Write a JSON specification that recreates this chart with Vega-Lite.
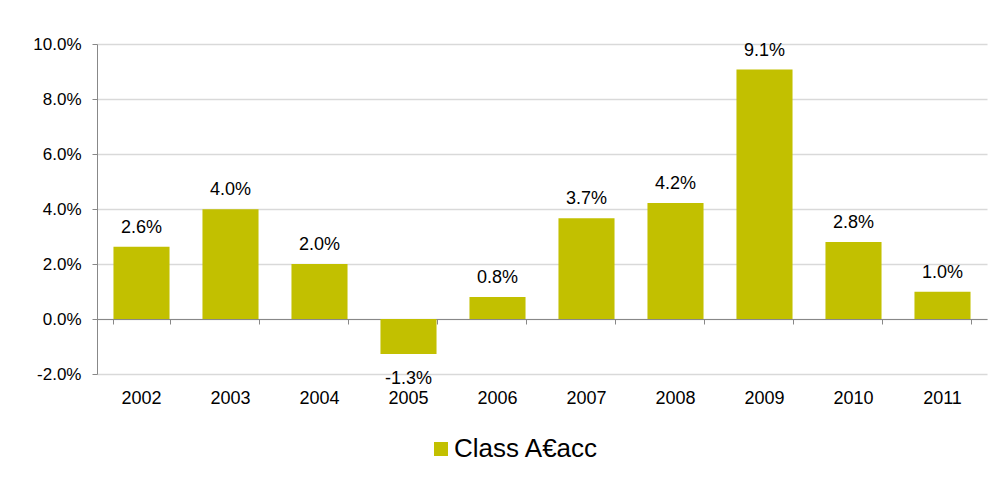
{
  "$schema": "https://vega.github.io/schema/vega-lite/v6.json",
  "width": 890,
  "height": 330,
  "autosize": "none",
  "padding": {"left": 97, "top": 44, "right": 17, "bottom": 103},
  "background": "white",
  "config": {
    "view": {"stroke": null},
    "font": "Liberation Sans",
    "locale": {"number": {"decimal": ".", "thousands": ",", "grouping": [3], "currency": ["$", ""], "minus": "-"}}
  },
  "data": {
    "values": [
      {"year": "2002", "value": 0.0263, "series": "Class A€acc"},
      {"year": "2003", "value": 0.0399, "series": "Class A€acc"},
      {"year": "2004", "value": 0.0200, "series": "Class A€acc"},
      {"year": "2005", "value": -0.0127, "series": "Class A€acc"},
      {"year": "2006", "value": 0.0080, "series": "Class A€acc"},
      {"year": "2007", "value": 0.0366, "series": "Class A€acc"},
      {"year": "2008", "value": 0.0422, "series": "Class A€acc"},
      {"year": "2009", "value": 0.0907, "series": "Class A€acc"},
      {"year": "2010", "value": 0.0280, "series": "Class A€acc"},
      {"year": "2011", "value": 0.0099, "series": "Class A€acc"}
    ]
  },
  "layer": [
    {
      "mark": {"type": "bar"},
      "encoding": {
        "x": {
          "field": "year", "type": "nominal",
          "scale": {"paddingInner": 0.37, "paddingOuter": 0.185},
          "axis": {"title": null, "domain": false, "ticks": false, "tickSize": 0, "labelAngle": 0, "labelFontSize": 18, "labelColor": "#000000", "labelPadding": 15, "grid": false}
        },
        "y": {
          "field": "value", "type": "quantitative",
          "scale": {"domain": [-0.02, 0.1], "nice": false, "zero": false},
          "axis": {"title": null, "values": [-0.02, 0, 0.02, 0.04, 0.06, 0.08, 0.1], "format": ".1%", "grid": true, "gridColor": "#d9d9d9", "gridWidth": 1.5, "domainColor": "#888888", "tickColor": "#888888", "tickSize": 5, "labelFontSize": 17, "labelColor": "#000000", "labelPadding": 11}
        },
        "color": {
          "field": "series", "type": "nominal",
          "scale": {"range": ["#C2C000"]},
          "legend": {"orient": "none", "legendX": 331, "legendY": 392, "title": null, "symbolType": "square", "symbolSize": 196, "symbolStrokeWidth": 0, "labelFontSize": 26, "labelColor": "#000000", "direction": "horizontal", "padding": 0, "labelOffset": 0}
        }
      }
    },
    {
      "transform": [{"filter": "datum.value >= 0"}],
      "mark": {"type": "text", "dy": -14, "baseline": "alphabetic", "fontSize": 18, "color": "#000000"},
      "encoding": {
        "x": {
          "field": "year", "type": "nominal",
          "axis": {"orient": "bottom", "offset": -55, "labels": false, "ticks": true, "tickBand": "extent", "tickSize": 5, "tickColor": "#888888", "domainColor": "#888888", "title": null, "grid": false}
        },
        "y": {"field": "value", "type": "quantitative"},
        "text": {"field": "value", "format": ".1%"}
      }
    },
    {
      "transform": [{"filter": "datum.value < 0"}],
      "mark": {"type": "text", "dy": 16, "baseline": "top", "fontSize": 18, "color": "#000000"},
      "encoding": {
        "x": {"field": "year", "type": "nominal", "axis": null},
        "y": {"field": "value", "type": "quantitative"},
        "text": {"field": "value", "format": ".1%"}
      }
    }
  ],
  "resolve": {"axis": {"x": "independent"}}
}
